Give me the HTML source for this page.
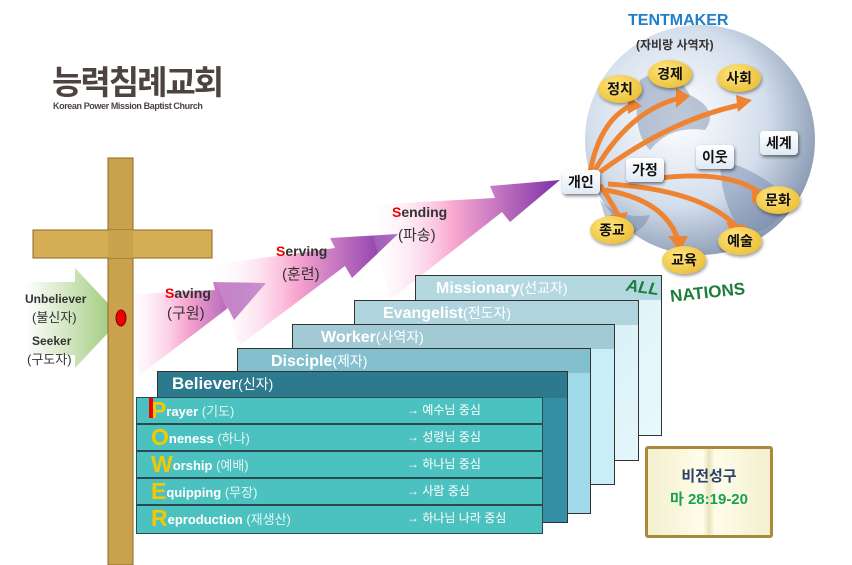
<!DOCTYPE html>
<html><head><meta charset="utf-8"><style>
body{margin:0;width:852px;height:565px;background:#fff;position:relative;overflow:hidden;font-family:"Liberation Sans","Noto Sans CJK KR",sans-serif}
.a{position:absolute}
.box{position:absolute;border:1.5px solid #333;box-sizing:border-box}
.hd{position:absolute;left:0;right:0;top:0;height:24px;font-weight:bold;color:#fff;font-size:16px;line-height:24px}
.hd span{font-weight:normal;font-size:14px}
.row{position:absolute;left:136px;width:407px;height:27px;background:#4cc2c0;border:1.5px solid #2a4a50;box-sizing:border-box;color:#fff;font-size:13px;font-weight:bold;line-height:25px;white-space:nowrap}
.row .t{position:absolute;left:14px;top:0}
.row .t b{color:#f6c800;font-size:23px;vertical-align:-2px}
.row .t span{font-weight:normal;opacity:.85}
.row .r{position:absolute;left:270px;top:0;font-weight:normal;font-size:12px}
.y{position:absolute;background:radial-gradient(ellipse at 40% 35%,#ffe680,#e6b422);border-radius:50%;width:44px;height:28px;text-align:center;line-height:28px;font-weight:bold;font-size:14px;color:#111;box-shadow:1px 2px 3px rgba(0,0,0,.4)}
.w{position:absolute;background:linear-gradient(#fff,#dfeaf5);border-radius:4px;padding:2px 6px;font-size:14px;font-weight:bold;color:#111;box-shadow:1px 2px 3px rgba(0,0,0,.5)}
</style></head><body>
<div class="a" style="left:52px;top:56px;font-size:33px;font-weight:bold;color:#4d4341;letter-spacing:-2px">능력침례교회</div>
<div class="a" style="left:53px;top:101px;font-size:9px;font-weight:bold;color:#4d4341;letter-spacing:-.4px">Korean Power Mission Baptist Church</div>

<svg class="a" style="left:0;top:0" width="852" height="565">
<defs>
<linearGradient id="pg" x1="0" y1="0" x2="1" y2="0"><stop offset="0" stop-color="#fff" stop-opacity="0"/><stop offset=".45" stop-color="#f9a8d0"/><stop offset="1" stop-color="#7b2fa8"/></linearGradient>
<linearGradient id="gg" x1="0" y1="0" x2="1" y2="0"><stop offset="0" stop-color="#fff"/><stop offset="1" stop-color="#8cc063"/></linearGradient>
<radialGradient id="gl" cx=".4" cy=".4" r=".65"><stop offset="0" stop-color="#ffffff"/><stop offset=".6" stop-color="#d3deec"/><stop offset="1" stop-color="#8797b0"/></radialGradient>
</defs>
<polygon points="25,282 75,282 75,268 122,318 75,368 75,355 25,355" fill="url(#gg)" opacity=".9"/>
<polygon points="120,295 215,290 213,282 266,283 234,320 228,308 140,375" fill="url(#pg)"/>
<polygon points="210,265 335,248 330,238 398,234 352,278 345,266 240,345" fill="url(#pg)"/>
<polygon points="365,205 495,198 490,186 560,180 510,222 502,212 390,300" fill="url(#pg)"/>
<circle cx="700" cy="140" r="115" fill="url(#gl)"/>
<path d="M640,80 Q670,60 690,95 Q720,110 705,130 Q670,125 650,150 Q630,130 640,80Z M720,160 Q760,170 790,200 Q770,240 740,230 Q720,200 720,160Z M600,200 Q620,220 650,215 Q640,240 610,235Z" fill="#6f84a8" opacity=".45"/>
<g fill="none" stroke="#ee8432" stroke-width="5">
<path d="M590,172 Q600,120 632,105"/><path d="M595,170 Q630,110 680,98"/><path d="M600,172 Q670,120 740,105"/>
<path d="M600,185 Q610,200 618,215"/><path d="M605,190 Q665,200 678,240"/><path d="M608,184 Q700,190 735,225"/><path d="M660,178 Q730,170 760,193"/>
</g>
<g fill="#ee8432"><polygon points="628,96 642,106 628,114"/><polygon points="676,88 690,96 676,108"/><polygon points="736,95 752,100 738,112"/><polygon points="610,215 628,212 620,228"/><polygon points="668,236 688,236 680,252"/><polygon points="726,222 748,226 734,238"/><polygon points="752,185 770,196 752,204"/></g>
<rect x="108" y="158" width="25" height="407" fill="#caa24d" stroke="#8a6a22"/>
<rect x="33" y="230" width="179" height="28" fill="#d4ad55" stroke="#8a6a22"/>
<rect x="108" y="230" width="25" height="28" fill="#caa24d"/>
<ellipse cx="121" cy="318" rx="5" ry="8" fill="#e00" stroke="#800"/>
</svg>

<div class="a" style="left:25px;top:292px;font-size:12px;font-weight:bold;color:#333">Unbeliever</div>
<div class="a" style="left:32px;top:307px;font-size:13px;color:#333">(불신자)</div>
<div class="a" style="left:32px;top:334px;font-size:12px;font-weight:bold;color:#333">Seeker</div>
<div class="a" style="left:27px;top:349px;font-size:13px;color:#333">(구도자)</div>
<div class="a" style="left:165px;top:285px;font-size:14px;font-weight:bold;color:#333"><span style="color:#e00">S</span>aving</div>
<div class="a" style="left:167px;top:302px;font-size:15px;color:#333">(구원)</div>
<div class="a" style="left:276px;top:243px;font-size:14px;font-weight:bold;color:#333"><span style="color:#e00">S</span>erving</div>
<div class="a" style="left:282px;top:263px;font-size:15px;color:#333">(훈련)</div>
<div class="a" style="left:392px;top:204px;font-size:14px;font-weight:bold;color:#333"><span style="color:#e00">S</span>ending</div>
<div class="a" style="left:398px;top:224px;font-size:15px;color:#333">(파송)</div>

<div class="box" style="left:415px;top:275px;width:247px;height:161px;background:linear-gradient(135deg,#d4eef4,#e8f8fc)"><div class="hd" style="background:#b4d8e0;padding-left:20px">Missionary<span>(선교자)</span></div></div>
<div class="box" style="left:354px;top:300px;width:285px;height:161px;background:linear-gradient(135deg,#c8e8f0,#e4f6fc)"><div class="hd" style="background:#b0d4dd;padding-left:28px">Evangelist<span>(전도자)</span></div></div>
<div class="box" style="left:292px;top:324px;width:323px;height:161px;background:#c9eef7"><div class="hd" style="background:#a2cad4;padding-left:28px">Worker<span>(사역자)</span></div></div>
<div class="box" style="left:237px;top:348px;width:354px;height:166px;background:#9fd9ea"><div class="hd" style="background:#83c0cd;padding-left:33px">Disciple<span>(제자)</span></div></div>
<div class="box" style="left:157px;top:371px;width:411px;height:152px;background:#338ea6"><div class="hd" style="background:#2d7a8e;padding-left:14px;font-size:17px;height:26px">Believer<span>(신자)</span></div></div>

<div class="row" style="top:397px"><div class="t"><b>P</b>rayer <span>(기도)</span></div><div class="r">→ 예수님 중심</div></div>
<div class="row" style="top:424px"><div class="t"><b>O</b>neness <span>(하나)</span></div><div class="r">→ 성령님 중심</div></div>
<div class="row" style="top:451px"><div class="t"><b>W</b>orship <span>(예배)</span></div><div class="r">→ 하나님 중심</div></div>
<div class="row" style="top:478px"><div class="t"><b>E</b>quipping <span>(무장)</span></div><div class="r">→ 사람 중심</div></div>
<div class="row" style="top:505px;height:29px"><div class="t"><b>R</b>eproduction <span>(재생산)</span></div><div class="r">→ 하나님 나라 중심</div></div>
<div class="a" style="left:149px;top:398px;width:4px;height:20px;background:#e00"></div>

<div class="a" style="left:645px;top:446px;width:128px;height:92px;background:linear-gradient(90deg,#f3efcf,#fffdea 45%,#e8e2bd 50%,#fffdea 55%,#f3efcf);border:3px solid #a88a3a;border-radius:3px;box-sizing:border-box"></div>
<div class="a" style="left:645px;top:465px;width:128px;text-align:center;font-size:15px;font-weight:bold;color:#2a3f6a">비전성구</div>
<div class="a" style="left:645px;top:488px;width:128px;text-align:center;font-size:15px;font-weight:bold;color:#1aa050">마 28:19-20</div>

<div class="a" style="left:628px;top:12px;font-size:16px;font-weight:bold;color:#1f7fc8">TENTMAKER</div>
<div class="a" style="left:636px;top:36px;font-size:12px;font-weight:bold;color:#333">(자비랑 사역자)</div>
<div class="y" style="left:598px;top:75px">정치</div>
<div class="y" style="left:648px;top:60px">경제</div>
<div class="y" style="left:717px;top:64px">사회</div>
<div class="y" style="left:590px;top:216px">종교</div>
<div class="y" style="left:662px;top:246px">교육</div>
<div class="y" style="left:718px;top:227px">예술</div>
<div class="y" style="left:756px;top:186px">문화</div>
<div class="w" style="left:562px;top:170px">개인</div>
<div class="w" style="left:626px;top:158px">가정</div>
<div class="w" style="left:696px;top:145px">이웃</div>
<div class="w" style="left:760px;top:131px">세계</div>
<div class="a" style="left:626px;top:278px;font-size:17px;font-weight:bold;font-style:italic;color:#1d7d3a;transform:rotate(8deg)">ALL</div>
<div class="a" style="left:670px;top:283px;font-size:17px;font-weight:bold;color:#1d7d3a;transform:rotate(-6deg)">NATIONS</div>
</body></html>
